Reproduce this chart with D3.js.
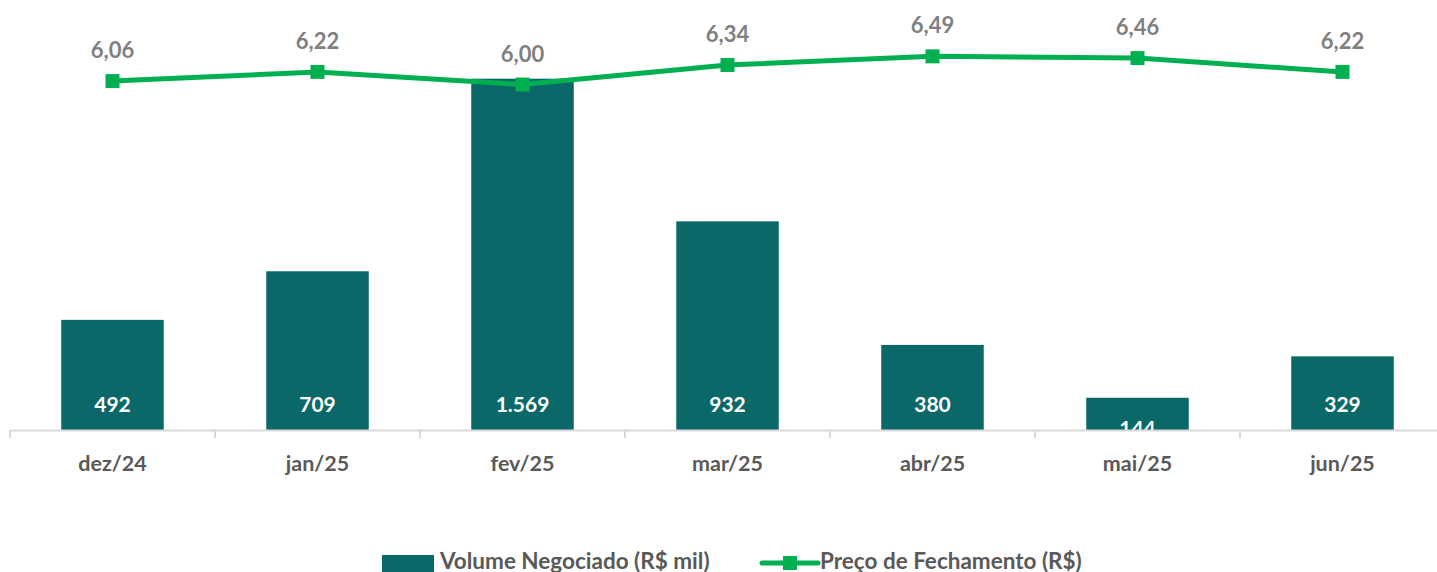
<!DOCTYPE html>
<html><head><meta charset="utf-8">
<script src="https://cdn.jsdelivr.net/npm/d3@7"></script>
<style>html,body{margin:0;padding:0;background:#fff;overflow:hidden}svg{display:block}</style>
</head><body>
<svg id="c" width="1437" height="572"></svg>
<script>
const categories = ["dez/24","jan/25","fev/25","mar/25","abr/25","mai/25","jun/25"];
const volume = [492, 709, 1569, 932, 380, 144, 329];
const volumeLabels = ["492","709","1.569","932","380","144","329"];
const price = [6.06, 6.22, 6.00, 6.34, 6.49, 6.46, 6.22];
const priceLabels = ["6,06","6,22","6,00","6,34","6,49","6,46","6,22"];
const legendNames = ["Volume Negociado (R$ mil)","Preço de Fechamento (R$)"];

(function(){
const FONT = "Lato, 'Open Sans', sans-serif";
const barColor = "#0b6868", lineColor = "#00b050";
const svg = d3.select("#c");
const x0 = 10, plotBottom = 430, plotTop = 27;
const x = d3.scaleBand().domain(categories).range([x0, x0 + 205*7]).paddingInner(0.5).paddingOuter(0.25);
const y = d3.scaleLinear().domain([0, 1800]).range([plotBottom, plotTop]);
const y2 = d3.scaleLinear().domain([0, 7]).range([plotBottom, plotTop]);

svg.append("defs").append("clipPath").attr("id","plot").append("rect")
  .attr("x",0).attr("y",0).attr("width",1437).attr("height",plotBottom);

// bars
svg.append("g").selectAll("rect").data(categories).join("rect")
  .attr("x", d => x(d)).attr("width", x.bandwidth())
  .attr("y", (d,i) => y(volume[i])).attr("height", (d,i) => plotBottom - y(volume[i]))
  .attr("fill", barColor);

// bar labels
svg.append("g").attr("clip-path","url(#plot)").selectAll("text").data(categories).join("text")
  .attr("x", d => x(d) + x.bandwidth()/2)
  .attr("y", (d,i) => Math.max(plotBottom - 25, y(volume[i]) + 31))
  .attr("dy","0.35em").attr("text-anchor","middle")
  .attr("font-family",FONT).attr("font-weight","bold").attr("font-size",21)
  .attr("fill","#fff").text((d,i) => volumeLabels[i]);

// x axis
const axis = d3.axisBottom(x).tickSize(0).tickPadding(0);
const ax = svg.append("g").attr("transform",`translate(0,${plotBottom})`).call(axis);
ax.select(".domain").remove();
ax.selectAll("text").attr("font-family",FONT).attr("font-weight","bold").attr("font-size",21.5)
  .attr("fill","#595959").attr("dy",null).attr("y",41);
svg.append("line").attr("x1",x0).attr("x2",1437).attr("y1",plotBottom+0.5).attr("y2",plotBottom+0.5)
  .attr("stroke","#d9d9d9").attr("stroke-width",2);
const bounds = categories.map(d => x(d) - x.step()*x.paddingInner()/2);
svg.append("g").selectAll("line").data(bounds).join("line")
  .attr("x1",d=>d).attr("x2",d=>d).attr("y1",plotBottom).attr("y2",plotBottom+8)
  .attr("stroke","#d9d9d9").attr("stroke-width",2);

// price line
const cx = d => x(d) + x.bandwidth()/2;
const line = d3.line().x((d,i)=>cx(categories[i])).y(d=>y2(d));
svg.append("path").datum(price).attr("d",line).attr("fill","none")
  .attr("stroke",lineColor).attr("stroke-width",5).attr("stroke-linejoin","round");
svg.append("g").selectAll("rect").data(price).join("rect")
  .attr("x",(d,i)=>cx(categories[i])-7).attr("y",d=>y2(d)-7)
  .attr("width",14).attr("height",14).attr("fill",lineColor);
svg.append("g").selectAll("text").data(price).join("text")
  .attr("x",(d,i)=>cx(categories[i])).attr("y",d=>y2(d)-23)
  .attr("text-anchor","middle").attr("font-family",FONT).attr("font-weight","bold")
  .attr("font-size",22).attr("fill","#7f7f7f").text((d,i)=>priceLabels[i]);

// legend
const lg = svg.append("g");
lg.append("rect").attr("x",382).attr("y",555).attr("width",52).attr("height",17).attr("fill",barColor);
lg.append("text").attr("x",440).attr("y",569).attr("font-family",FONT).attr("font-weight","bold")
  .attr("font-size",22.5).attr("fill","#595959").text(legendNames[0]);
lg.append("line").attr("x1",762).attr("x2",818).attr("y1",563).attr("y2",563)
  .attr("stroke",lineColor).attr("stroke-width",5).attr("stroke-linecap","round");
lg.append("rect").attr("x",783).attr("y",556).attr("width",14).attr("height",14).attr("fill",lineColor);
lg.append("text").attr("x",820).attr("y",569).attr("font-family",FONT).attr("font-weight","bold")
  .attr("font-size",22.5).attr("fill","#595959").text(legendNames[1]);
})();
</script>
</body></html>
